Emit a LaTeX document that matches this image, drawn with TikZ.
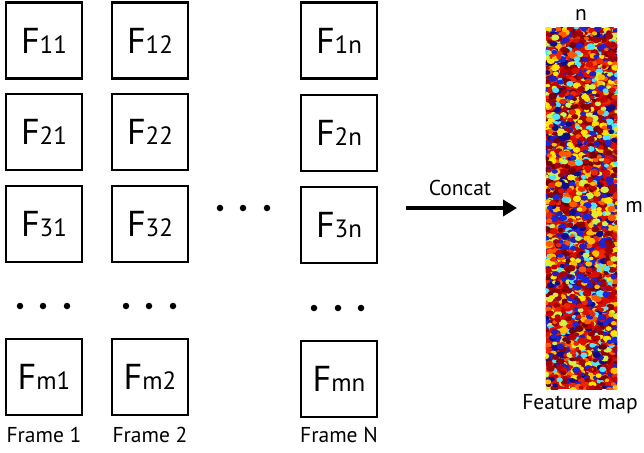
\documentclass[tikz,border=0pt]{standalone}
\usepackage{fontspec}
\setmainfont{PT Sans}
\usetikzlibrary{arrows.meta}
\begin{document}
\begin{tikzpicture}[x=1pt,y=-1pt,
  fbox/.style={draw=black,line width=2.4pt,minimum width=76pt,minimum height=76pt,inner sep=0pt},
  caption/.style={font=\fontsize{21.5}{24}\selectfont,inner sep=0pt},
  dot/.style={circle,fill=black,minimum size=6.5pt,inner sep=0pt}]
\useasboundingbox (0,0) rectangle (644,452);
\newcommand{\fl}[2]{{\fontsize{36}{40}\selectfont F}{\fontsize{25}{28}\selectfont #1#2}}
% boxes
\node[fbox] (f11) at (44,40.5) {\fl{1}{1}};
\node[fbox] (f12) at (150,40.5) {\fl{1}{2}};
\node[fbox] (f1n) at (339,40.5) {\fl{1}{n}};
\node[fbox] (f21) at (44,132) {\fl{2}{1}};
\node[fbox] (f22) at (150,132) {\fl{2}{2}};
\node[fbox] (f2n) at (339,133) {\fl{2}{n}};
\node[fbox] (f31) at (44,224) {\fl{3}{1}};
\node[fbox] (f32) at (150,224) {\fl{3}{2}};
\node[fbox] (f3n) at (339,225) {\fl{3}{n}};
\node[fbox] (fm1) at (44,377) {\fl{m}{1}};
\node[fbox] (fm2) at (150,377) {\fl{m}{2}};
\node[fbox] (fmn) at (339,379) {\fl{m}{n}};
% dots
\foreach \x [count=\k] in {20,43,67}{\node[dot] (da\k) at (\x,306) {};}
\foreach \x [count=\k] in {126,149,173}{\node[dot] (db\k) at (\x,306) {};}
\foreach \x [count=\k] in {314,338,361}{\node[dot] (dc\k) at (\x,308) {};}
\foreach \x [count=\k] in {220,243,267}{\node[dot] (dd\k) at (\x,208) {};}
% captions
\node[caption] (cap1) at (44,435) {Frame 1};
\node[caption] (cap2) at (150,435) {Frame 2};
\node[caption] (capn) at (339,435) {Frame N};
% feature map
\definecolor{fm0}{rgb}{0.85,0.05,0.0}
\definecolor{fm1}{rgb}{0.92,0.15,0.0}
\definecolor{fm2}{rgb}{0.75,0.0,0.0}
\definecolor{fm3}{rgb}{1.0,0.35,0.0}
\definecolor{fm4}{rgb}{0.55,0.0,0.0}
\definecolor{fm5}{rgb}{0.62,0.02,0.05}
\definecolor{fm6}{rgb}{1.0,0.75,0.0}
\definecolor{fm7}{rgb}{1.0,0.90,0.0}
\definecolor{fm8}{rgb}{0.15,0.12,0.75}
\definecolor{fm9}{rgb}{0.05,0.05,0.55}
\definecolor{fm10}{rgb}{0.30,0.90,1.0}
\definecolor{fm11}{rgb}{0.80,0.95,0.30}
\definecolor{fm12}{rgb}{0.10,0.15,0.85}
\definecolor{fm13}{rgb}{0.45,0.0,0.05}
\node[minimum width=71pt,minimum height=361pt,inner sep=0pt,fill=fm0] (fmap) at (581.5,208.5) {};
\begin{scope}
\clip (fmap.south west) rectangle (fmap.north east);
\pgfmathsetseed{11}
\foreach \n in {1,...,2600}{
  \pgfmathrandominteger{\k}{0}{13}
  \pgfmathsetmacro{\px}{546+73*rnd-1}
  \pgfmathsetmacro{\py}{28+363*rnd-1}
  \pgfmathsetmacro{\rr}{1.8+1.6*rnd}
  \fill[fm\k] (\px,\py) ellipse [x radius=\rr*1.3, y radius=\rr];
}
\end{scope}
\node[caption] (lbn) at (581,15) {n};
\node[caption] (lbm) at (634,207) {m};
\node[caption] (lbfm) at (580,404) {Feature map};
% arrow
\coordinate (as) at (406,208);
\coordinate (ae) at (517,208);
\draw[line width=4pt,-{Triangle[length=14pt,width=16pt]}] (as) -- (ae);
\node[caption] (lbc) at (460,188) {Concat};
\end{tikzpicture}
\end{document}
